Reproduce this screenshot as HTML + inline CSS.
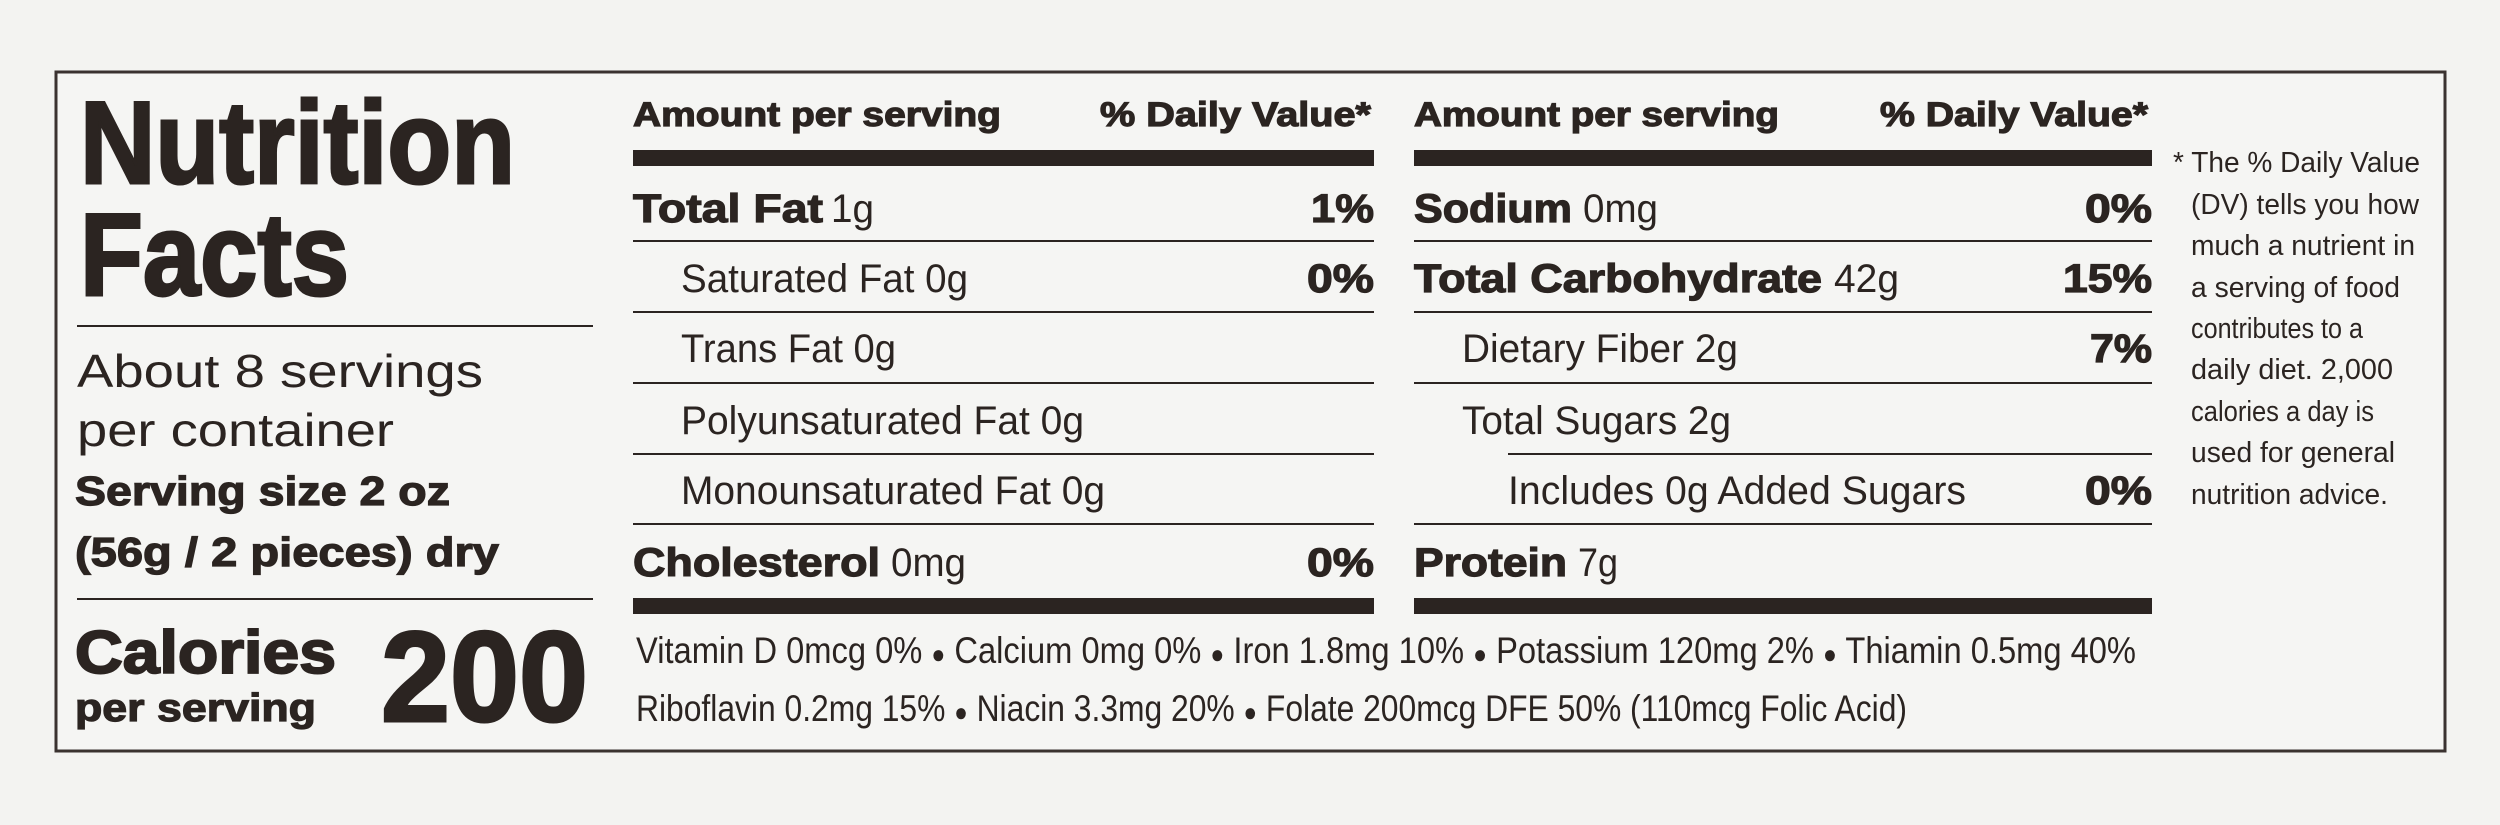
<!DOCTYPE html>
<html><head><meta charset="utf-8"><style>
html,body{margin:0;padding:0;background:#f3f3f1;}
svg{display:block}
text{font-family:"Liberation Sans",sans-serif;fill:#2b2421}
.b{font-weight:bold;stroke:#2b2421;stroke-width:1.2px}
.h{stroke-width:3px}
.d{font-size:26px}
</style></head><body>
<svg width="2500" height="825" viewBox="0 0 2500 825" xmlns="http://www.w3.org/2000/svg">
<rect x="0" y="0" width="2500" height="825" fill="#f3f3f1"/>
<rect x="56" y="72" width="2389" height="679" fill="#f5f5f3" stroke="#3a3230" stroke-width="3"/>
<g>
<text class="b h" x="80" y="183" font-size="117" textLength="435" lengthAdjust="spacingAndGlyphs">Nutrition</text>
<text class="b h" x="80" y="295" font-size="117" textLength="269" lengthAdjust="spacingAndGlyphs">Facts</text>
<rect x="77" y="325" width="516" height="2" fill="#2b2421"/>
<text x="77" y="387" font-size="46" textLength="406" lengthAdjust="spacingAndGlyphs">About 8 servings</text>
<text x="77" y="446" font-size="46" textLength="317" lengthAdjust="spacingAndGlyphs">per container</text>
<text class="b" x="75" y="505" font-size="41" textLength="375" lengthAdjust="spacingAndGlyphs">Serving size 2 oz</text>
<text class="b" x="75" y="566" font-size="41" textLength="424" lengthAdjust="spacingAndGlyphs">(56g / 2 pieces) dry</text>
<rect x="77" y="598" width="516" height="2" fill="#2b2421"/>
<text class="b" x="75" y="673" font-size="60" textLength="261" lengthAdjust="spacingAndGlyphs" style="stroke-width:2px">Calories</text>
<text class="b" x="75" y="721" font-size="39" textLength="241" lengthAdjust="spacingAndGlyphs">per serving</text>
<text class="b h" x="381" y="721" font-size="128" textLength="207" lengthAdjust="spacingAndGlyphs">200</text>

<text class="b" x="633" y="126" font-size="34" textLength="368" lengthAdjust="spacingAndGlyphs">Amount per serving</text>
<text class="b" x="1100" y="126" font-size="34" textLength="271" lengthAdjust="spacingAndGlyphs">% Daily Value*</text>
<rect x="633" y="150" width="741" height="16" fill="#2b2421"/>
<text class="b" x="633" y="222" font-size="40" textLength="190" lengthAdjust="spacingAndGlyphs">Total Fat</text>
<text x="831" y="222" font-size="40" textLength="43" lengthAdjust="spacingAndGlyphs">1g</text>
<text class="b" x="1311" y="222" font-size="40" textLength="63" lengthAdjust="spacingAndGlyphs">1%</text>
<rect x="633" y="240" width="741" height="2" fill="#2b2421"/>
<text x="681" y="292" font-size="40" textLength="287" lengthAdjust="spacingAndGlyphs">Saturated Fat 0g</text>
<text class="b" x="1307" y="292" font-size="40" textLength="67" lengthAdjust="spacingAndGlyphs">0%</text>
<rect x="633" y="311" width="741" height="2" fill="#2b2421"/>
<text x="681" y="362" font-size="40" textLength="215" lengthAdjust="spacingAndGlyphs">Trans Fat 0g</text>
<rect x="633" y="382" width="741" height="2" fill="#2b2421"/>
<text x="681" y="434" font-size="40" textLength="403" lengthAdjust="spacingAndGlyphs">Polyunsaturated Fat 0g</text>
<rect x="633" y="453" width="741" height="2" fill="#2b2421"/>
<text x="681" y="504" font-size="40" textLength="424" lengthAdjust="spacingAndGlyphs">Monounsaturated Fat 0g</text>
<rect x="633" y="523" width="741" height="2" fill="#2b2421"/>
<text class="b" x="633" y="576" font-size="40" textLength="247" lengthAdjust="spacingAndGlyphs">Cholesterol</text>
<text x="891" y="576" font-size="40" textLength="75" lengthAdjust="spacingAndGlyphs">0mg</text>
<text class="b" x="1307" y="576" font-size="40" textLength="67" lengthAdjust="spacingAndGlyphs">0%</text>
<rect x="633" y="598" width="741" height="16" fill="#2b2421"/>

<text class="b" x="1414" y="126" font-size="34" textLength="365" lengthAdjust="spacingAndGlyphs">Amount per serving</text>
<text class="b" x="1880" y="126" font-size="34" textLength="268" lengthAdjust="spacingAndGlyphs">% Daily Value*</text>
<rect x="1414" y="150" width="738" height="16" fill="#2b2421"/>
<text class="b" x="1414" y="222" font-size="40" textLength="158" lengthAdjust="spacingAndGlyphs">Sodium</text>
<text x="1583" y="222" font-size="40" textLength="75" lengthAdjust="spacingAndGlyphs">0mg</text>
<text class="b" x="2085" y="222" font-size="40" textLength="67" lengthAdjust="spacingAndGlyphs">0%</text>
<rect x="1414" y="240" width="738" height="2" fill="#2b2421"/>
<text class="b" x="1414" y="292" font-size="40" textLength="408" lengthAdjust="spacingAndGlyphs">Total Carbohydrate</text>
<text x="1834" y="292" font-size="40" textLength="65" lengthAdjust="spacingAndGlyphs">42g</text>
<text class="b" x="2063" y="292" font-size="40" textLength="89" lengthAdjust="spacingAndGlyphs">15%</text>
<rect x="1414" y="311" width="738" height="2" fill="#2b2421"/>
<text x="1462" y="362" font-size="40" textLength="276" lengthAdjust="spacingAndGlyphs">Dietary Fiber 2g</text>
<text class="b" x="2090" y="362" font-size="40" textLength="62" lengthAdjust="spacingAndGlyphs">7%</text>
<rect x="1414" y="382" width="738" height="2" fill="#2b2421"/>
<text x="1462" y="434" font-size="40" textLength="269" lengthAdjust="spacingAndGlyphs">Total Sugars 2g</text>
<rect x="1508" y="453" width="644" height="2" fill="#2b2421"/>
<text x="1508" y="504" font-size="40" textLength="458" lengthAdjust="spacingAndGlyphs">Includes 0g Added Sugars</text>
<text class="b" x="2085" y="504" font-size="40" textLength="67" lengthAdjust="spacingAndGlyphs">0%</text>
<rect x="1414" y="523" width="738" height="2" fill="#2b2421"/>
<text class="b" x="1414" y="576" font-size="40" textLength="153" lengthAdjust="spacingAndGlyphs">Protein</text>
<text x="1578" y="576" font-size="40" textLength="40" lengthAdjust="spacingAndGlyphs">7g</text>
<rect x="1414" y="598" width="738" height="16" fill="#2b2421"/>

<text x="636" y="663" font-size="37" textLength="1500" lengthAdjust="spacingAndGlyphs">Vitamin D 0mcg 0%  <tspan class="d">●</tspan>  Calcium 0mg 0%  <tspan class="d">●</tspan>  Iron 1.8mg 10%  <tspan class="d">●</tspan>  Potassium 120mg 2%  <tspan class="d">●</tspan>  Thiamin 0.5mg 40%</text>
<text x="636" y="721" font-size="37" textLength="1271" lengthAdjust="spacingAndGlyphs">Riboflavin 0.2mg 15%  <tspan class="d">●</tspan>  Niacin 3.3mg 20%  <tspan class="d">●</tspan>  Folate 200mcg DFE 50% (110mcg Folic Acid)</text>

<text x="2173" y="172" font-size="29" textLength="247" lengthAdjust="spacingAndGlyphs">* The % Daily Value</text>
<text x="2191" y="214" font-size="29" textLength="228" lengthAdjust="spacingAndGlyphs">(DV) tells you how</text>
<text x="2191" y="255" font-size="29" textLength="224" lengthAdjust="spacingAndGlyphs">much a nutrient in</text>
<text x="2191" y="297" font-size="29" textLength="209" lengthAdjust="spacingAndGlyphs">a serving of food</text>
<text x="2191" y="338" font-size="29" textLength="172" lengthAdjust="spacingAndGlyphs">contributes to a</text>
<text x="2191" y="379" font-size="29" textLength="202" lengthAdjust="spacingAndGlyphs">daily diet. 2,000</text>
<text x="2191" y="421" font-size="29" textLength="183" lengthAdjust="spacingAndGlyphs">calories a day is</text>
<text x="2191" y="462" font-size="29" textLength="204" lengthAdjust="spacingAndGlyphs">used for general</text>
<text x="2191" y="504" font-size="29" textLength="197" lengthAdjust="spacingAndGlyphs">nutrition advice.</text>
</g>
</svg>
</body></html>
